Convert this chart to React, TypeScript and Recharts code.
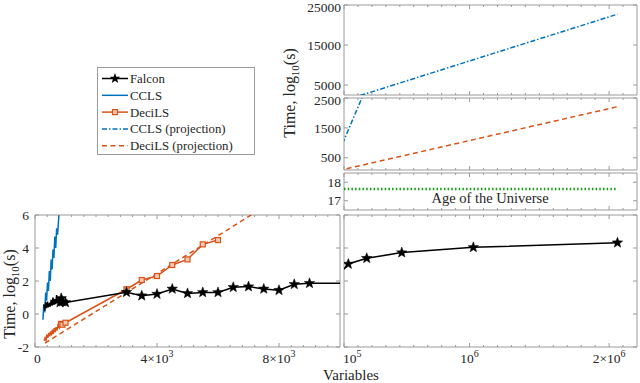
import React from 'react';
import { LineChart, Line, XAxis, YAxis, ReferenceArea } from 'recharts';

const W = 640;
const H = 383;
const FONT = "'Liberation Serif', 'Times New Roman', serif";
const TXT = '#262626';
const AX = '#9a9a9a';

// ---------- data ----------
const falconN = [290, 320, 350, 380, 410, 440, 470, 500, 530, 560, 590, 620, 650, 680, 710, 740, 780, 820, 860, 900, 1000,
  3000, 3500, 4000, 4500, 5000, 5500, 6000, 6500, 7000, 7500, 8000, 8500, 9000,
  131000, 263000, 514000, 1027000, 2060000];
const falconT = [0.55, 0.2, 0.7, 0.35, 0.75, 0.4, 0.6, 0.45, 0.85, 0.5, 1.0, 0.55, 0.9, 0.6, 1.15, 0.65, 0.9, 0.7, 0.95, 0.75, 0.7,
  1.32, 1.11, 1.21, 1.52, 1.25, 1.31, 1.31, 1.62, 1.66, 1.52, 1.44, 1.80, 1.86,
  3.03, 3.38, 3.72, 4.04, 4.32];

const cclsN = [260, 290, 320, 350, 380, 410, 440, 470, 500, 530, 560, 590, 620, 650, 680, 710, 740, 780, 820];
const cclsT = [-0.35, 0.6, 0.1, 1.3, 0.8, 1.9, 1.4, 2.6, 2.0, 3.3, 2.7, 3.9, 3.4, 4.7, 4.0, 5.2, 4.8, 5.9, 6.4];

const deciN = [300, 330, 360, 390, 420, 450, 480, 510, 540, 570, 600, 630, 660, 690, 720, 750, 800, 850, 900, 1000,
  3000, 3500, 4000, 4500, 5000, 5500, 6000];
const deciT = [-1.62, -1.45, -1.6, -1.25, -1.45, -1.15, -1.35, -1.05, -1.3, -0.95, -1.2, -0.85, -1.1, -0.8, -1.0, -0.7, -0.85, -0.6, -0.65, -0.53,
  1.50, 2.06, 2.30, 2.97, 3.31, 4.22, 4.48];

const cclsProjN = [820, 100000, 2060000];
const cclsProjT = [6.4, 1090, 22700];

const deciProjN = [330, 6300, 100000, 2060000];
const deciProjT = [-1.76, 5.09, 114, 2209];

const universeN = [100000, 2060000];
const universeT = [17.64, 17.64];

const MARKER_MIN_N = 820;

// ---------- ticks ----------
const llXMajor = [0, 4000, 8000];
const llXMinor = [400, 800, 1200, 1600, 2000, 2400, 2800, 3200, 3600, 4400, 4800, 5200, 5600, 6000, 6400, 6800, 7200, 7600, 8400, 8800, 9200, 9600];
const llXLabels = [{ v: 0, base: '0', exp: '' }, { v: 4000, base: '4×10', exp: '3' }, { v: 8000, base: '8×10', exp: '3' }];
const rXMajor = [100000, 1000000, 2000000];
const rXMinor = [200000, 300000, 400000, 500000, 600000, 700000, 800000, 900000, 1100000, 1200000, 1300000, 1400000, 1500000, 1600000, 1700000, 1800000, 1900000, 2100000];
const rXLabels = [{ v: 100000, base: '10', exp: '5' }, { v: 1000000, base: '10', exp: '6' }, { v: 2000000, base: '2×10', exp: '6' }];
const lowYTicks = [-2, 0, 2, 4, 6];
const p1YTicks = [5000, 15000, 25000];
const p2YTicks = [500, 1500, 2500];
const p3YTicks = [17, 18];

const toData = (n: number[], t: number[]) => n.map((x, i) => ({ x, y: t[i] }));
const falconData = toData(falconN, falconT);
const cclsData = toData(cclsN, cclsT);
const deciData = toData(deciN, deciT);
const cclsProjData = toData(cclsProjN, cclsProjT);
const deciProjData = toData(deciProjN, deciProjT);
const universeData = toData(universeN, universeT);

const BLUE = '#0072BD';
const ORANGE = '#D95319';
const GREEN = '#10a010';
const TICK_FS = 13.5;

const starPoints = (cx: number, cy: number, r: number) => {
  const pts: string[] = [];
  for (let i = 0; i < 10; i++) {
    const rr = i % 2 === 0 ? r : r * 0.42;
    const a = -Math.PI / 2 + (i * Math.PI) / 5;
    pts.push(`${cx + rr * Math.cos(a)},${cy + rr * Math.sin(a)}`);
  }
  return pts.join(' ');
};

const inDom = (p: any, xd: [number, number], yd: [number, number]) =>
  p.x >= xd[0] && p.x <= xd[1] && p.y >= yd[0] && p.y <= yd[1];

const makeStarDot = (xd: [number, number], yd: [number, number]) => (props: any) => {
  const { cx, cy, payload, index } = props;
  if (cx == null || cy == null || payload.x < MARKER_MIN_N || !inDom(payload, xd, yd)) return <g key={`s${index}`} />;
  return <polygon key={`s${index}`} points={starPoints(cx, cy, 5.5)} fill="#000" stroke="#000" strokeWidth={0.5} />;
};

const makeSquareDot = (xd: [number, number], yd: [number, number]) => (props: any) => {
  const { cx, cy, payload, index } = props;
  if (cx == null || cy == null || payload.x < MARKER_MIN_N || !inDom(payload, xd, yd)) return <g key={`q${index}`} />;
  return <rect key={`q${index}`} x={cx - 2.5} y={cy - 2.5} width={5} height={5} fill="#f6c9b3" stroke={ORANGE} strokeWidth={1.2} />;
};

type Lab = { v: number; base: string; exp: string };

const XAH = 20;
const YAW = 30;

const makeXTick = (plotBottom: number, plotH: number, major: number[], labels: Lab[] | null, xMin: number) => (props: any) => {
  const { x, payload } = props;
  const v = payload.value;
  const y = plotBottom;
  const len = major.includes(v) ? 4 : 2;
  const lab = labels ? labels.find((l) => l.v === v) : undefined;
  const atEdge = v === xMin;
  return (
    <g>
      <line x1={x} x2={x} y1={y} y2={y - len} stroke={AX} />
      <line x1={x} x2={x} y1={y - plotH} y2={y - plotH + len} stroke={AX} />
      {lab && (
        <text x={atEdge ? x - 1 : x} y={y + 16} textAnchor={atEdge ? 'start' : 'middle'} fontSize={TICK_FS} fontFamily={FONT} fill={TXT}>
          {lab.base}
          {lab.exp && <tspan dy={-6} fontSize={10}>{lab.exp}</tspan>}
        </text>
      )}
    </g>
  );
};

const makeYTick = (plotLeft: number, plotTop: number, plotW: number, showLabel: boolean, gap: number, topNudge: number) => (props: any) => {
  const { y, payload } = props;
  const x = plotLeft;
  let ly = Math.max(y, 7);
  if (Math.abs(y - plotTop) < 1) ly += topNudge;
  return (
    <g>
      <line x1={x} x2={x + 4} y1={y} y2={y} stroke={AX} />
      <line x1={x + plotW} x2={x + plotW - 4} y1={y} y2={y} stroke={AX} />
      {showLabel && (
        <text x={x - gap} y={ly} dy="0.35em" textAnchor="end" fontSize={TICK_FS} fontFamily={FONT} fill={TXT}>
          {payload.value}
        </text>
      )}
    </g>
  );
};

type PanelProps = {
  left: number; right: number; top: number; bottom: number;
  xDomain: [number, number]; yDomain: [number, number];
  xMajor: number[]; xMinor: number[]; xLabels: Lab[] | null;
  yTicks: number[]; yLabels: boolean; yGap: number; topNudge: number;
};

function Panel(p: PanelProps) {
  const plotW = p.right - p.left;
  const plotH = p.bottom - p.top;
  return (
    <div style={{ position: 'absolute', left: 0, top: 0 }}>
      <LineChart width={W} height={H} margin={{ left: p.left - YAW, top: p.top, right: W - p.right, bottom: H - p.bottom - XAH }}>
        <XAxis type="number" dataKey="x" domain={p.xDomain} allowDataOverflow ticks={[...p.xMajor, ...p.xMinor]} interval={0}
          height={XAH} axisLine={false} tickLine={false}
          tick={makeXTick(p.bottom, plotH, p.xMajor, p.xLabels, p.xDomain[0])} />
        <YAxis type="number" dataKey="y" domain={p.yDomain} allowDataOverflow ticks={p.yTicks} interval={0}
          width={YAW} axisLine={false} tickLine={false}
          tick={makeYTick(p.left, p.top, plotW, p.yLabels, p.yGap, p.topNudge)} />
        <ReferenceArea x1={p.xDomain[0]} x2={p.xDomain[1]} y1={p.yDomain[0]} y2={p.yDomain[1]} fill="none" stroke={AX} strokeWidth={1} ifOverflow="visible" />
        <Line data={universeData} dataKey="y" type="linear" stroke={GREEN} strokeWidth={2.5} strokeDasharray="1.5 2.2" dot={false} isAnimationActive={false} />
        <Line data={deciProjData} dataKey="y" type="linear" stroke={ORANGE} strokeWidth={1.5} strokeDasharray="5 3.5" dot={false} isAnimationActive={false} />
        <Line data={cclsProjData} dataKey="y" type="linear" stroke={BLUE} strokeWidth={1.5} strokeDasharray="5 2 1.5 2" dot={false} isAnimationActive={false} />
        <Line data={cclsData} dataKey="y" type="linear" stroke={BLUE} strokeWidth={1.5} dot={false} isAnimationActive={false} />
        <Line data={deciData} dataKey="y" type="linear" stroke={ORANGE} strokeWidth={1.5} dot={makeSquareDot(p.xDomain, p.yDomain)} isAnimationActive={false} />
        <Line data={falconData} dataKey="y" type="linear" stroke="#000" strokeWidth={1.5} dot={makeStarDot(p.xDomain, p.yDomain)} isAnimationActive={false} />
      </LineChart>
    </div>
  );
}

const legendItems = [
  { name: 'Falcon', color: '#000', dash: undefined as string | undefined, marker: 'star' },
  { name: 'CCLS', color: BLUE, dash: undefined, marker: '' },
  { name: 'DeciLS', color: ORANGE, dash: undefined, marker: 'square' },
  { name: 'CCLS (projection)', color: BLUE, dash: '5 2 1.5 2', marker: '' },
  { name: 'DeciLS (projection)', color: ORANGE, dash: '5 3.5', marker: '' },
];

function Overlay() {
  return (
    <svg width={W} height={H} style={{ position: 'absolute', left: 0, top: 0 }}>
      <rect x={97.5} y={67.5} width={157} height={87} fill="#fff" stroke={AX} />
      {legendItems.map((it, i) => {
        const y = 78.5 + i * 16.8;
        return (
          <g key={it.name}>
            <line x1={102} x2={128} y1={y} y2={y} stroke={it.color} strokeWidth={1.5} strokeDasharray={it.dash} />
            {it.marker === 'star' && <polygon points={starPoints(115, y, 5.5)} fill="#000" />}
            {it.marker === 'square' && <rect x={112.5} y={y - 2.5} width={5} height={5} fill="#f6c9b3" stroke={ORANGE} strokeWidth={1.2} />}
            <text x={130} y={y} dy="0.35em" fontSize={12.8} fontFamily={FONT} fill={TXT}>{it.name}</text>
          </g>
        );
      })}
      <text transform="translate(15,294) rotate(-90)" textAnchor="middle" fontSize={16} fontFamily={FONT} fill={TXT}>
        Time, log<tspan dy={4} fontSize={11}>10</tspan><tspan dy={-4}>(s)</tspan>
      </text>
      <text transform="translate(295,93) rotate(-90)" textAnchor="middle" fontSize={16} fontFamily={FONT} fill={TXT}>
        Time, log<tspan dy={4} fontSize={11}>10</tspan><tspan dy={-4}>(s)</tspan>
      </text>
      <text x={351} y={380} textAnchor="middle" fontSize={15} fontFamily={FONT} fill={TXT}>Variables</text>
      <text x={490} y={203} textAnchor="middle" fontSize={14.5} fontFamily={FONT} fill={TXT}>Age of the Universe</text>
    </svg>
  );
}

export default function App() {
  const rDomain: [number, number] = [100000, 2200000];
  return (
    <div style={{ position: 'absolute', left: 0, top: 0, width: W, height: H, background: '#fff', fontFamily: FONT }}>
      <Panel left={35} right={340} top={215} bottom={347} xDomain={[0, 10000]} yDomain={[-2, 6]}
        xMajor={llXMajor} xMinor={llXMinor} xLabels={llXLabels} yTicks={lowYTicks} yLabels={true} yGap={6} topNudge={0} />
      <Panel left={344} right={637} top={215} bottom={347} xDomain={rDomain} yDomain={[-2, 6]}
        xMajor={rXMajor} xMinor={rXMinor} xLabels={rXLabels} yTicks={lowYTicks} yLabels={false} yGap={3} topNudge={0} />
      <Panel left={344} right={637} top={173} bottom={210} xDomain={rDomain} yDomain={[16.5, 18.5]}
        xMajor={rXMajor} xMinor={rXMinor} xLabels={null} yTicks={p3YTicks} yLabels={true} yGap={3} topNudge={0} />
      <Panel left={344} right={637} top={98} bottom={170} xDomain={rDomain} yDomain={[90, 2500]}
        xMajor={rXMajor} xMinor={rXMinor} xLabels={null} yTicks={p2YTicks} yLabels={true} yGap={3} topNudge={2.5} />
      <Panel left={344} right={637} top={5} bottom={95} xDomain={rDomain} yDomain={[2500, 25000]}
        xMajor={rXMajor} xMinor={rXMinor} xLabels={null} yTicks={p1YTicks} yLabels={true} yGap={3} topNudge={0} />
      <Overlay />
    </div>
  );
}
